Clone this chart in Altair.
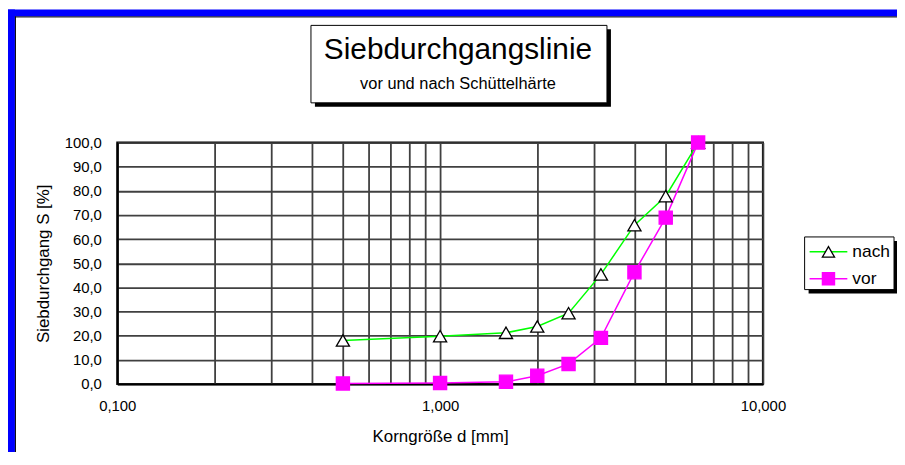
import altair as alt
import pandas as pd

# ---- data ----
korn = [0.5, 1.0, 1.6, 2.0, 2.5, 3.15, 4.0, 5.0, 6.3]
nach = [18.0, 19.8, 21.2, 23.8, 29.3, 45.4, 65.8, 77.8, 100.0]
vor = [0.2, 0.4, 0.9, 3.4, 8.3, 19.1, 46.3, 68.9, 100.0]
serien = ["nach", "vor"]
farben = ["#00ff00", "#ff00ff"]
formen = ["triangle-up", "square"]
fuellung = ["white", "#ff00ff"]
rand = ["black", "#ff00ff"]
x_ticks = [0.1, 0.2, 0.3, 0.4, 0.5, 0.6, 0.7, 0.8, 0.9,
           1, 2, 3, 4, 5, 6, 7, 8, 9, 10]
y_ticks = [0, 10, 20, 30, 40, 50, 60, 70, 80, 90, 100]
titel = "Siebdurchgangslinie"
untertitel = "vor und nach Schüttelhärte"
x_titel = "Korngröße d [mm]"
y_titel = "Siebdurchgang S [%]"

FONT = "Liberation Sans"

rows = []
for s, vals in zip(serien, [nach, vor]):
    for k, v in zip(korn, vals):
        rows.append({"d": k, "S": v, "Serie": s})
df = pd.DataFrame(rows)
one = pd.DataFrame({"a": [0]})

xscale = alt.Scale(type="log", domain=[0.1, 10], nice=False)
yscale = alt.Scale(domain=[0, 100], nice=False, zero=False)

x_axis = alt.Axis(
    values=x_ticks,
    labelExpr="(abs(datum.value-0.1)<1e-9 || abs(datum.value-1)<1e-9 || abs(datum.value-10)<1e-9) ? replace(format(datum.value, '.3f'), '.', ',') : ''",
    title=x_titel, titleX=325, titleY=58, titleBaseline="alphabetic",
    titleAlign="center", labelPadding=15, labelFlush=False, labelOverlap=False,
)
y_axis = alt.Axis(
    values=y_ticks,
    labelExpr="replace(format(datum.value, '.1f'), '.', ',')",
    title=y_titel, titleX=-69, titleY=121.5, titleBaseline="alphabetic",
    titleAlign="center", labelPadding=16, labelOverlap=False, labelFlush=False,
)
x_enc = alt.X("d:Q", scale=xscale, axis=x_axis)
y_enc = alt.Y("S:Q", scale=yscale, axis=y_axis)

color_enc = alt.Color("Serie:N", scale=alt.Scale(domain=serien, range=farben), legend=None)

lines = alt.Chart(df).mark_line(strokeWidth=1.5).encode(
    x=x_enc, y=y_enc, color=color_enc, detail="Serie:N"
)
points = alt.Chart(df).mark_point(filled=True, size=175, strokeWidth=1.3, opacity=1).encode(
    x=x_enc,
    y=y_enc,
    shape=alt.Shape("Serie:N", scale=alt.Scale(domain=serien, range=formen), legend=None),
    fill=alt.Fill("Serie:N", scale=alt.Scale(domain=serien, range=fuellung), legend=None),
    stroke=alt.Stroke("Serie:N", scale=alt.Scale(domain=serien, range=rand), legend=None),
)

# ---- decorations: blue frame ----
blue_left = alt.Chart(one).mark_rect(color="#0000ff").encode(
    x=alt.value(-110), x2=alt.value(-103), y=alt.value(-134), y2=alt.value(320))
blue_top = alt.Chart(one).mark_rect(color="#0000ff").encode(
    x=alt.value(-110), x2=alt.value(800), y=alt.value(-134), y2=alt.value(-127))
frame_v = alt.Chart(one).mark_rule(color="black", strokeWidth=1).encode(
    x=alt.value(-102.5), y=alt.value(-127), y2=alt.value(320))
frame_h = alt.Chart(one).mark_rule(color="black", strokeWidth=1).encode(
    x=alt.value(-103), x2=alt.value(800), y=alt.value(-126.5))

# ---- title box ----
tshadow = alt.Chart(one).mark_rect(color="black").encode(
    x=alt.value(199), x2=alt.value(497), y=alt.value(-114), y2=alt.value(-36))
tbox = alt.Chart(one).mark_rect(fill="white", stroke="black", strokeWidth=1).encode(
    x=alt.value(195), x2=alt.value(493), y=alt.value(-118), y2=alt.value(-40))
ttext = alt.Chart(one).mark_text(text=titel, font=FONT, fontSize=30, align="center",
                                 baseline="alphabetic", color="black").encode(
    x=alt.value(343), y=alt.value(-84))
tsub = alt.Chart(one).mark_text(text=untertitel, font=FONT, fontSize=16.5, align="center",
                                baseline="alphabetic", color="black").encode(
    x=alt.value(343), y=alt.value(-54))

# ---- legend box ----
lshadow = alt.Chart(one).mark_rect(color="black").encode(
    x=alt.value(696), x2=alt.value(800), y=alt.value(99), y2=alt.value(152))
lbox = alt.Chart(one).mark_rect(fill="white", stroke="black", strokeWidth=1).encode(
    x=alt.value(692), x2=alt.value(782), y=alt.value(95), y2=alt.value(148))

legend_layers = []
for i, s in enumerate(serien):
    yy = 110 + i * 27
    sd = pd.DataFrame({"Serie": [s]})
    legend_layers.append(alt.Chart(sd).mark_rule(color=farben[i], strokeWidth=1.5).encode(
        x=alt.value(697), x2=alt.value(735), y=alt.value(yy)))
    legend_layers.append(alt.Chart(sd).mark_point(
        shape=formen[i], fill=fuellung[i], stroke=rand[i], filled=True, size=150,
        strokeWidth=1.3, opacity=1).encode(x=alt.value(716), y=alt.value(yy)))
    legend_layers.append(alt.Chart(sd).mark_text(
        font=FONT, fontSize=17.5, align="left", baseline="middle", color="black").encode(
        text="Serie:N", x=alt.value(740), y=alt.value(yy)))

chart = alt.layer(
    blue_left, blue_top, frame_v, frame_h,
    tshadow, tbox, ttext, tsub,
    lshadow, lbox,
    lines, points,
    *legend_layers,
).properties(
    width=650, height=243,
    autosize=alt.AutoSizeParams(type="none"),
    padding={"left": 110, "top": 134, "right": 135, "bottom": 67},
    background="white",
).configure_view(
    stroke="black", strokeWidth=2, fill="white",
).configure_axis(
    grid=True, gridColor="#404040", gridWidth=1.8, gridOpacity=1,
    domainColor="black", domainWidth=2, ticks=False,
    labelFont=FONT, labelFontSize=15, labelColor="black",
    titleFont=FONT, titleFontSize=17, titleFontWeight="normal", titleColor="black",
)

chart.save("out.html", embed_options={"renderer": "svg", "actions": False})
